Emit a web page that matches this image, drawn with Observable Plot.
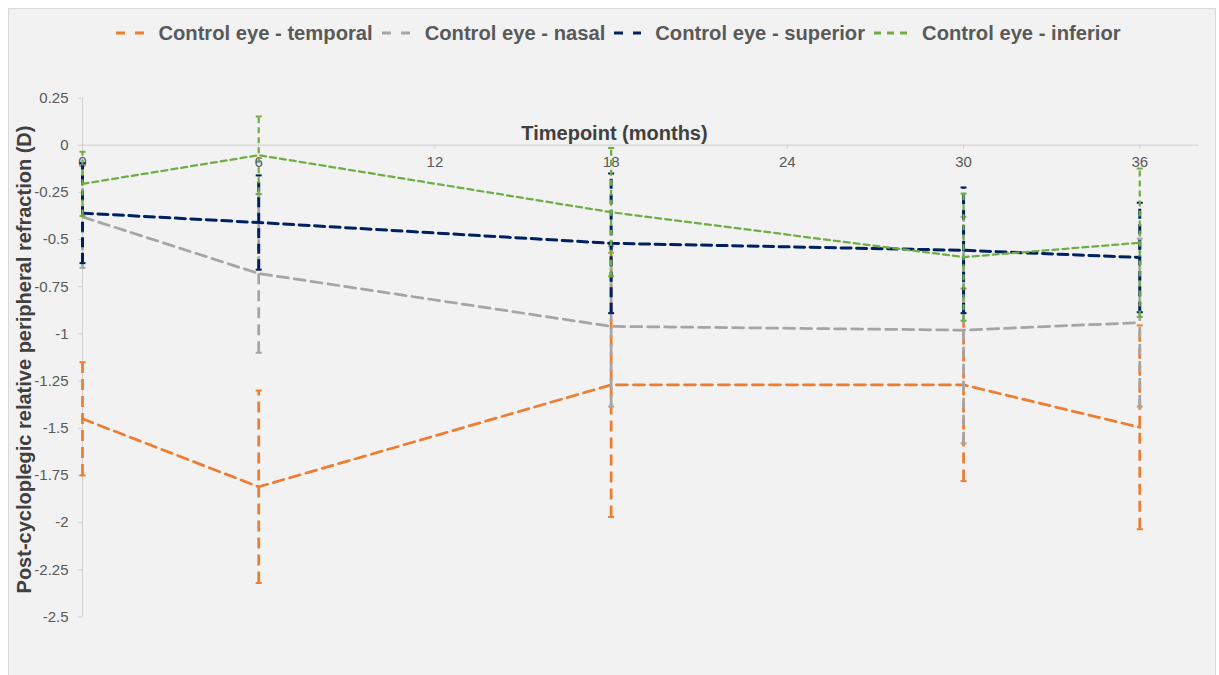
<!DOCTYPE html>
<html>
<head>
<meta charset="utf-8">
<script src="https://cdn.jsdelivr.net/npm/d3@7"></script>
<script src="https://cdn.jsdelivr.net/npm/@observablehq/plot@0.6"></script>
<style>
html, body { margin: 0; padding: 0; background: #ffffff; }
#wrap { position: relative; width: 1219px; height: 675px; overflow: hidden; font-family: "Liberation Sans", Arial, sans-serif; }
#panel { position: absolute; left: 8px; top: 8px; width: 1206px; height: 720px; background: #f2f2f2; border: 1px solid #d9d9d9; }
#chart { position: absolute; left: 0; top: 0; }
#legend { position: absolute; left: 0; top: 20px; width: 1246px; height: 26px; display: flex; justify-content: center; align-items: center; }
.item { display: flex; align-items: center; margin-right: 9px; }
.item svg { margin-right: 14px; }
.item span { font-size: 20.2px; font-weight: bold; color: #595959; white-space: nowrap; }
</style>
</head>
<body>
<div id="wrap">
  <div id="panel"></div>
  <div id="chart"></div>
  <div id="legend"></div>
</div>
<script>
// ---- Data ----
const months = [0, 6, 18, 30, 36];
const seriesNames = ["Control eye - temporal", "Control eye - nasal", "Control eye - superior", "Control eye - inferior"];
const temporalMean = [-1.45, -1.81, -1.27, -1.27, -1.495];
const temporalSD   = [0.30, 0.51, 0.70, 0.51, 0.54];
const nasalMean    = [-0.38, -0.68, -0.96, -0.98, -0.94];
const nasalSD      = [0.27, 0.42, 0.425, 0.60, 0.445];
const superiorMean = [-0.36, -0.41, -0.52, -0.557, -0.595];
const superiorSD   = [0.265, 0.25, 0.37, 0.333, 0.29];
const inferiorMean = [-0.205, -0.053, -0.355, -0.593, -0.517];
const inferiorSD   = [0.17, 0.205, 0.34, 0.337, 0.393];
const xTicks = [0, 6, 12, 18, 24, 30, 36];
const yTicks = [0.25, 0, -0.25, -0.5, -0.75, -1, -1.25, -1.5, -1.75, -2, -2.25, -2.5];
const xLabel = "Timepoint (months)";
const yLabel = "Post-cycloplegic relative peripheral refraction (D)";

// ---- Styles ----
const colors = ["#ED7D31", "#A5A5A5", "#002060", "#70AD47"];
const dashes = ["11,6", "11,6", "10,5.5", "6,4"];
const widths = [2.75, 2.75, 3, 2.25];
const legendDash = ["9,10", "9,10", "9,10", "7,6"];
const legendLen = [28, 29, 27, 34];

const means = [temporalMean, nasalMean, superiorMean, inferiorMean];
const sds = [temporalSD, nasalSD, superiorSD, inferiorSD];

const rows = [];
seriesNames.forEach((s, si) => {
  months.forEach((t, i) => {
    rows.push({series: s, si, t, mean: means[si][i], lo: means[si][i] - sds[si][i], hi: means[si][i] + sds[si][i]});
  });
});

const capSymbol = {
  draw(ctx, size) {
    const r = Math.sqrt(size / Math.PI);
    ctx.moveTo(-r, 0);
    ctx.lineTo(r, 0);
  }
};

const seriesMarks = [];
seriesNames.forEach((s, si) => {
  const d = rows.filter(r => r.si === si);
  seriesMarks.push(
    Plot.line(d, {x: "t", y: "mean", stroke: colors[si], strokeWidth: widths[si], strokeDasharray: dashes[si]}),
    Plot.ruleX(d, {x: "t", y1: "lo", y2: "hi", stroke: colors[si], strokeWidth: widths[si], strokeDasharray: dashes[si]}),
    Plot.dot(d, {x: "t", y: "hi", symbol: capSymbol, r: 3, stroke: colors[si], strokeWidth: 2, fill: "none"}),
    Plot.dot(d, {x: "t", y: "lo", symbol: capSymbol, r: 3, stroke: colors[si], strokeWidth: 2, fill: "none"})
  );
});

const chart = Plot.plot({
  width: 1219,
  height: 675,
  marginLeft: 82,
  marginRight: 21,
  marginTop: 97.5,
  marginBottom: 58.5,
  style: {background: "transparent", fontFamily: "Liberation Sans, Arial, sans-serif", overflow: "visible"},
  x: {domain: [0, 38], axis: null},
  y: {domain: [-2.5, 0.25]},
  marks: [
    Plot.ruleY([0], {stroke: "#d9d9d9", strokeWidth: 1.5}),
    Plot.ruleX([0], {stroke: "#d0d0d0", strokeWidth: 1}),
    Plot.axisY(yTicks, {tickSize: 4, tickPadding: 10, tickFormat: d => String(d), fontSize: 15, fill: "#595959", stroke: "#d0d0d0", label: null}),
    Plot.ruleX(xTicks, {x: d => d, y1: () => 0, y2: () => 0, insetBottom: -4, stroke: "#d0d0d0"}),
    Plot.text(xTicks, {x: d => d, y: () => 0, dy: 17, text: d => String(d), fontSize: 15, fill: "#595959"}),
    Plot.text([xLabel], {text: d => d, frameAnchor: "top", dx: -26, dy: 28, fontSize: 20, fontWeight: "bold", fill: "#404040"}),
    Plot.text([yLabel], {text: d => d, frameAnchor: "left", textAnchor: "middle", lineAnchor: "middle", rotate: -90, dx: -58, dy: 2, fontSize: 20, fontWeight: "bold", fill: "#404040"}),
    ...seriesMarks
  ]
});
document.getElementById("chart").appendChild(chart);

// ---- Legend ----
const legend = document.getElementById("legend");
seriesNames.forEach((s, si) => {
  const item = document.createElement("div");
  item.className = "item";
  const len = legendLen[si];
  item.innerHTML = `<svg width="${len}" height="6"><line x1="0" y1="3" x2="${len}" y2="3" stroke="${colors[si]}" stroke-width="3" stroke-dasharray="${legendDash[si]}"/></svg><span>${s}</span>`;
  legend.appendChild(item);
});
</script>
</body>
</html>
